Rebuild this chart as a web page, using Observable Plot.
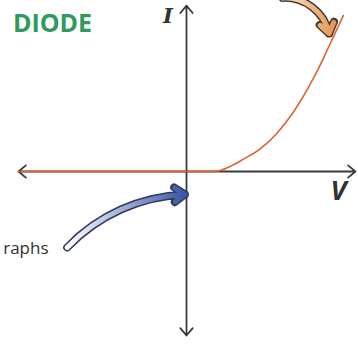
<!DOCTYPE html>
<html>
<head>
<meta charset="utf-8">
<script src="https://cdn.jsdelivr.net/npm/d3@7"></script>
<script src="https://cdn.jsdelivr.net/npm/@observablehq/plot@0.6"></script>
<style>
  html, body { margin: 0; padding: 0; background: #fff; }
  #chart svg { display: block; }
</style>
</head>
<body>
<div id="chart"></div>
<script>
// Diode I–V characteristic (arbitrary units)
const voltage = [-5.42, 0, 0.9, 1.42, 1.84, 2.39, 2.94, 3.45, 4.10, 4.42, 4.74, 5.06];
const current = [0, 0, 0, 0.17, 0.40, 0.74, 1.26, 1.92, 3.02, 3.66, 4.35, 5.03];

// Axis extents (V left/right, I top/bottom)
const axisV = [-5.42, 5.45];
const axisI = [5.35, -5.29];

// Text labels
const titleText = "DIODE";
const axisLabels = ["I", "V"];
const noteText = "raphs";

// Annotation arrows (start/end in data units)
const blueArrow = {x1: -3.85, y1: -2.45, x2: -0.05, y2: -0.74};
const orangeArrow = {x1: 3.1, y1: 5.6, x2: 4.6, y2: 4.45};

const curve = voltage.map((v, i) => ({V: v, I: current[i]}));
const axes = [
  {x1: 0, y1: 0, x2: axisV[0], y2: 0},
  {x1: 0, y1: 0, x2: axisV[1], y2: 0},
  {x1: 0, y1: 0, x2: 0, y2: axisI[0]},
  {x1: 0, y1: 0, x2: 0, y2: axisI[1]}
];

function defs() {
  const ns = "http://www.w3.org/2000/svg";
  const d = document.createElementNS(ns, "defs");
  const mk = (id, stops) => {
    const g = document.createElementNS(ns, "linearGradient");
    g.setAttribute("id", id);
    g.setAttribute("x1", "0"); g.setAttribute("x2", "1");
    g.setAttribute("y1", "0"); g.setAttribute("y2", "0");
    stops.forEach(([o, c]) => {
      const s = document.createElementNS(ns, "stop");
      s.setAttribute("offset", o); s.setAttribute("stop-color", c);
      g.appendChild(s);
    });
    d.appendChild(g);
  };
  mk("blueGrad", [["0", "#ffffff"], ["0.35", "#b8c2e4"], ["1", "#3a56a6"]]);
  mk("orangeGrad", [["0", "#fbe6cf"], ["1", "#e39a55"]]);
  return d;
}

const chart = Plot.plot({
  width: 358,
  height: 344,
  margin: 0,
  x: {domain: [-186 / 31, 172 / 31], axis: null},
  y: {domain: [-173 / 31, 171 / 31], axis: null},
  marks: [
    defs,
    Plot.arrow(axes, {x1: "x1", y1: "y1", x2: "x2", y2: "y2",
      stroke: "#3a3a3a", strokeWidth: 1.8, headLength: 8, headAngle: 80}),
    Plot.line(curve, {x: "V", y: "I", stroke: "#e0622e", strokeWidth: 1.6, curve: "monotone-x"}),
    // blue annotation arrow: outline then gradient body
    Plot.arrow([blueArrow], {x1: "x1", y1: "y1", x2: "x2", y2: "y2", bend: 22,
      stroke: "#333a55", strokeWidth: 8, headLength: 2.4, headAngle: 70}),
    Plot.arrow([blueArrow], {x1: "x1", y1: "y1", x2: "x2", y2: "y2", bend: 22,
      stroke: "url(#blueGrad)", strokeWidth: 5, headLength: 3.6, headAngle: 70}),
    // orange annotation arrow
    Plot.arrow([orangeArrow], {x1: "x1", y1: "y1", x2: "x2", y2: "y2", bend: 40,
      stroke: "#4a3a30", strokeWidth: 8, headLength: 2.4, headAngle: 70}),
    Plot.arrow([orangeArrow], {x1: "x1", y1: "y1", x2: "x2", y2: "y2", bend: 40,
      stroke: "url(#orangeGrad)", strokeWidth: 5, headLength: 3.6, headAngle: 70}),
    Plot.text([titleText], {x: -5.6, y: 4.77, text: d => d, textAnchor: "start",
      fill: "#2f9a5c", fontSize: 25, fontWeight: "bold", fontFamily: "Open Sans", letterSpacing: -1}),
    Plot.text([axisLabels[0]], {x: -0.6, y: 5.0, text: d => d,
      fill: "#333", fontSize: 21, fontWeight: "bold", fontStyle: "italic", fontFamily: "DejaVu Serif"}),
    Plot.text([axisLabels[1]], {x: 4.9, y: -0.65, text: d => d,
      fill: "#333", fontSize: 27, fontWeight: "bold", fontStyle: "italic", fontFamily: "Open Sans"}),
    Plot.text([noteText], {x: -4.45, y: -2.5, text: d => d, textAnchor: "end",
      fill: "#333", fontSize: 17, fontFamily: "Open Sans"})
  ]
});
document.getElementById("chart").appendChild(chart);
</script>
</body>
</html>
